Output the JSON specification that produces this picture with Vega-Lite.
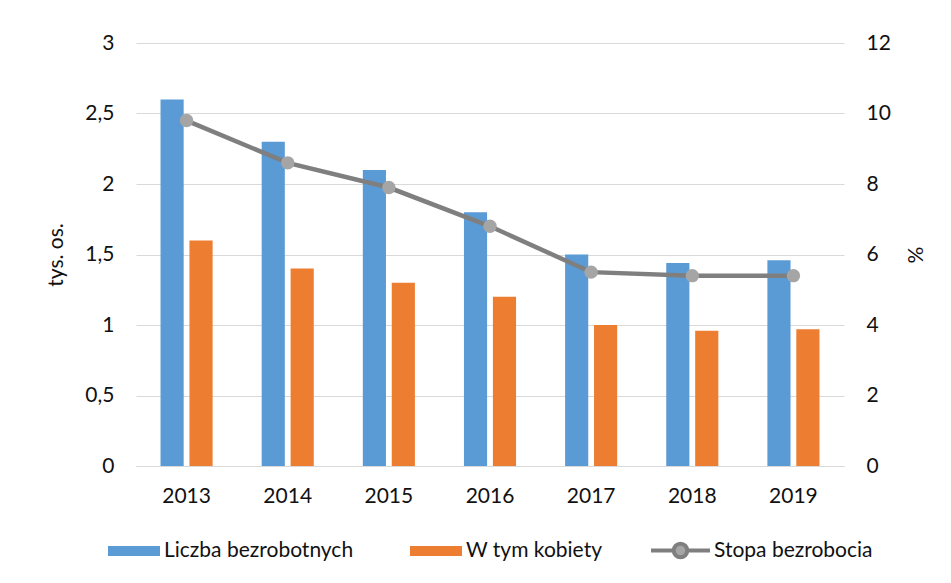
{
  "$schema": "https://vega.github.io/schema/vega-lite/v6.json",
  "width": 708,
  "height": 423,
  "autosize": {"type": "none"},
  "padding": {"left": 136, "top": 43, "right": 107, "bottom": 117},
  "background": "white",
  "config": {
    "view": {"stroke": null},
    "font": "Lato",
    "axis": {"labelFont": "Lato", "titleFont": "Lato", "labelFontSize": 21, "titleFontSize": 21, "labelColor": "#111111", "titleColor": "#111111", "titleFontWeight": "normal"},
    "legend": {"labelFont": "Lato", "labelFontSize": 21, "labelColor": "#111111", "labelLimit": 400}
  },
  "datasets": {
    "bars": [
      {"rok": "2013", "seria": "Liczba bezrobotnych", "wartosc": 2.6},
      {"rok": "2013", "seria": "W tym kobiety", "wartosc": 1.6},
      {"rok": "2014", "seria": "Liczba bezrobotnych", "wartosc": 2.3},
      {"rok": "2014", "seria": "W tym kobiety", "wartosc": 1.4},
      {"rok": "2015", "seria": "Liczba bezrobotnych", "wartosc": 2.1},
      {"rok": "2015", "seria": "W tym kobiety", "wartosc": 1.3},
      {"rok": "2016", "seria": "Liczba bezrobotnych", "wartosc": 1.8},
      {"rok": "2016", "seria": "W tym kobiety", "wartosc": 1.2},
      {"rok": "2017", "seria": "Liczba bezrobotnych", "wartosc": 1.5},
      {"rok": "2017", "seria": "W tym kobiety", "wartosc": 1.0},
      {"rok": "2018", "seria": "Liczba bezrobotnych", "wartosc": 1.44},
      {"rok": "2018", "seria": "W tym kobiety", "wartosc": 0.96},
      {"rok": "2019", "seria": "Liczba bezrobotnych", "wartosc": 1.46},
      {"rok": "2019", "seria": "W tym kobiety", "wartosc": 0.97}
    ],
    "rate": [
      {"rok": "2013", "seria": "Stopa bezrobocia", "stopa": 9.8},
      {"rok": "2014", "seria": "Stopa bezrobocia", "stopa": 8.6},
      {"rok": "2015", "seria": "Stopa bezrobocia", "stopa": 7.9},
      {"rok": "2016", "seria": "Stopa bezrobocia", "stopa": 6.8},
      {"rok": "2017", "seria": "Stopa bezrobocia", "stopa": 5.5},
      {"rok": "2018", "seria": "Stopa bezrobocia", "stopa": 5.4},
      {"rok": "2019", "seria": "Stopa bezrobocia", "stopa": 5.4}
    ]
  },
  "encoding": {
    "x": {
      "field": "rok", "type": "nominal",
      "scale": {"paddingInner": 0.485, "paddingOuter": 0.2425},
      "axis": {"title": null, "labelAngle": 0, "ticks": false, "domain": true, "domainColor": "#d9d9d9", "domainWidth": 1, "labelPadding": 19, "grid": false}
    }
  },
  "layer": [
    {
      "data": {"name": "bars"},
      "mark": {"type": "bar"},
      "encoding": {
        "xOffset": {"field": "seria", "type": "nominal", "scale": {"paddingInner": 0.2}},
        "y": {
          "field": "wartosc", "type": "quantitative",
          "scale": {"domain": [0, 3], "nice": false},
          "axis": {"title": "tys. os.", "values": [0, 0.5, 1, 1.5, 2, 2.5, 3], "labelOverlap": false, "labelExpr": "replace(format(datum.value, '.1~f'), '.', ',')", "ticks": false, "domain": false, "grid": true, "gridColor": "#d9d9d9", "gridWidth": 1, "labelPadding": 22, "titlePadding": 18}
        },
        "fill": {
          "field": "seria", "type": "nominal",
          "scale": {"domain": ["Liczba bezrobotnych", "W tym kobiety"], "range": ["#5b9bd5", "#ed7d31"]},
          "legend": {"title": null, "orient": "none", "direction": "horizontal", "legendX": -28, "legendY": 482, "symbolType": "M-1,-0.19H1V0.19H-1Z", "symbolSize": 2704, "symbolStrokeWidth": 0, "labelOffset": 4, "columnPadding": 56, "symbolOpacity": 1}
        }
      }
    },
    {
      "data": {"name": "rate"},
      "mark": {"type": "line", "strokeWidth": 4.5, "color": "#7f7f7f"},
      "encoding": {
        "y": {
          "field": "stopa", "type": "quantitative",
          "scale": {"domain": [0, 12], "nice": false},
          "axis": {"orient": "right", "title": "%", "titleAngle": -90, "values": [0, 2, 4, 6, 8, 10, 12], "ticks": false, "domain": false, "grid": false, "labelPadding": 22, "titlePadding": 36}
        },
        "stroke": {
          "field": "seria", "type": "nominal",
          "scale": {"domain": ["Stopa bezrobocia"], "range": ["#7f7f7f"]},
          "legend": {"title": null, "orient": "none", "legendX": 513, "legendY": 476, "symbolType": "M-1,0H-0.27M0.27,0H1M0.23,0A0.23,0.23 0 1 1 -0.23,0A0.23,0.23 0 1 1 0.23,0Z", "symbolSize": 3481, "symbolStrokeWidth": 4, "symbolFillColor": "#a5a5a5", "labelOffset": 2}
        }
      }
    },
    {
      "data": {"name": "rate"},
      "mark": {"type": "point", "filled": true, "size": 180, "color": "#a5a5a5", "opacity": 1},
      "encoding": {
        "y": {"field": "stopa", "type": "quantitative", "scale": {"domain": [0, 12], "nice": false}, "axis": null}
      }
    }
  ],
  "resolve": {"scale": {"y": "independent"}}
}
